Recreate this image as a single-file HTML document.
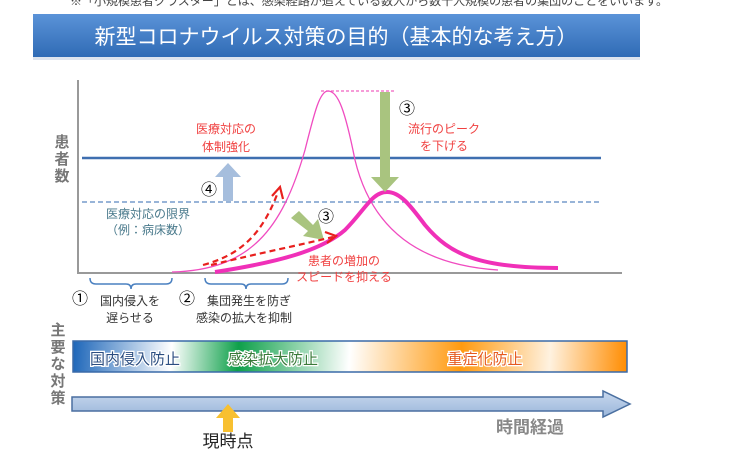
<!DOCTYPE html>
<html><head><meta charset="utf-8"><style>
html,body{margin:0;padding:0;background:#fff;width:738px;height:471px;overflow:hidden}
text{font-family:"Liberation Sans","Noto Sans CJK JP",sans-serif}
</style></head><body>
<svg width="738" height="471" viewBox="0 0 738 471" xmlns="http://www.w3.org/2000/svg">
<defs>
<linearGradient id="tb" x1="0" y1="0" x2="0" y2="1"><stop offset="0" stop-color="#5b93d8"/><stop offset="1" stop-color="#2f6bb5"/></linearGradient>
<linearGradient id="bar" x1="72" y1="340" x2="627" y2="372" gradientUnits="userSpaceOnUse">
<stop offset="0" stop-color="#1a64b8"/><stop offset="0.18" stop-color="#ffffff"/><stop offset="0.3" stop-color="#0ea04a"/><stop offset="0.5" stop-color="#ffffff"/><stop offset="0.7" stop-color="#ff9a10"/><stop offset="0.86" stop-color="#fff2e0"/><stop offset="1" stop-color="#ff8c00"/></linearGradient>
<linearGradient id="arr" x1="0" y1="0" x2="0" y2="1"><stop offset="0" stop-color="#c8d8ee"/><stop offset="1" stop-color="#9ab6da"/></linearGradient>
</defs>
<text x="70" y="5" font-size="12" fill="#444">※「小規模患者クラスター」とは、感染経路が追えている数人から数十人規模の患者の集団のことをいいます。</text>
<rect x="33" y="14" width="607" height="43" fill="url(#tb)"/>
<rect x="33" y="57" width="607" height="3" fill="#dde4ee"/>
<text x="336" y="44" font-size="21" fill="#fff" text-anchor="middle">新型コロナウイルス対策の目的（基本的な考え方）</text>
<line x1="78" y1="80" x2="78" y2="274" stroke="#999" stroke-width="2"/>
<line x1="77" y1="273" x2="622" y2="273" stroke="#999" stroke-width="2"/>
<g font-size="15" font-weight="bold" fill="#777" text-anchor="middle">
<text x="62" y="147">患</text><text x="62" y="164">者</text><text x="62" y="181">数</text>
<text x="58" y="335">主</text><text x="58" y="352">要</text><text x="58" y="369">な</text><text x="58" y="386">対</text><text x="58" y="403">策</text>
</g>
<line x1="82" y1="158" x2="601" y2="158" stroke="#3f6fb0" stroke-width="2.5"/>
<line x1="82" y1="202" x2="601" y2="202" stroke="#5b86c0" stroke-width="1.2" stroke-dasharray="5,3"/>
<text x="148" y="218" font-size="12" fill="#4a7a8c" text-anchor="middle">医療対応の限界</text>
<text x="148" y="234" font-size="12" fill="#4a7a8c" text-anchor="middle">（例：病床数）</text>
<line x1="321" y1="91" x2="396" y2="91" stroke="#f060c0" stroke-width="1.2" stroke-dasharray="3,2"/>
<path d="M172,272 C250,270 282,230 305,150 C315,110 320,91 328,91 C338,91 345,110 355,160 C372,230 420,265 498,270" fill="none" stroke="#f04cc0" stroke-width="1.3"/>
<path d="M215,272 C280,262 322,250 345,230 C365,210 372,192 387,192 C400,192 410,205 425,225 C450,255 480,268 558,268" fill="none" stroke="#f030b8" stroke-width="4"/>
<polygon points="380,92 390,92 390,177 399,177 385,192 371,177 380,177" fill="#a9c47f"/>
<polygon points="223,201 233,201 233,177 241,177 228,163 215,177 223,177" fill="#a6bedd"/>
<polygon points="291,218 299,211 313,225 318,219 324,240 303,236 308,231" fill="#a9c47f"/>
<path d="M203,265 C240,255 262,235 278,192" fill="none" stroke="#e8201e" stroke-width="2.2" stroke-dasharray="6,4"/>
<polyline points="272,196 280,187 283,199" fill="none" stroke="#e8201e" stroke-width="2.2"/>
<path d="M211,265 C260,253 300,245 333,237" fill="none" stroke="#e8201e" stroke-width="2.2" stroke-dasharray="6,4"/>
<polyline points="325,232 336,236 327,243" fill="none" stroke="#e8201e" stroke-width="2.2"/>
<g font-size="12" fill="#f04040" text-anchor="middle">
<text x="226" y="133">医療対応の</text><text x="226" y="151">体制強化</text>
<text x="444" y="133">流行のピーク</text><text x="444" y="150">を下げる</text>
<text x="344" y="265">患者の増加の</text><text x="344" y="281">スピードを抑える</text>
</g>
<g font-size="16" fill="#000" text-anchor="middle">
<text x="407" y="114">③</text><text x="326" y="222">③</text><text x="209" y="195">④</text>
<text x="80" y="304">①</text><text x="187" y="304">②</text>
</g>
<g fill="none" stroke="#4a80c0" stroke-width="1.5">
<path d="M90,278 Q90,284 96,284 L126,284 Q131,284 131,289 Q131,284 136,284 L166,284 Q172,284 172,278"/>
<path d="M205,278 Q205,284 211,284 L241,284 Q246,284 246,289 Q246,284 251,284 L282,284 Q288,284 288,278"/>
</g>
<g font-size="12" fill="#333" text-anchor="middle">
<text x="130" y="305">国内侵入を</text><text x="130" y="322">遅らせる</text>
<text x="249" y="305">集団発生を防ぎ</text><text x="244" y="322">感染の拡大を抑制</text>
</g>
<rect x="73" y="341" width="554" height="31" fill="url(#bar)" stroke="#3a6aa8" stroke-width="1.5"/>
<g font-size="15" text-anchor="middle">
<text x="135" y="364" fill="#2b4d80" stroke="#fff" stroke-width="2.5" paint-order="stroke">国内侵入防止</text>
<text x="273" y="364" fill="#3a7a3a" stroke="#fff" stroke-width="2.5" paint-order="stroke">感染拡大防止</text>
<text x="485" y="364" fill="#e55a20" stroke="#fff" stroke-width="2.5" paint-order="stroke">重症化防止</text>
</g>
<polygon points="72,397 603,397 603,391 630,404 603,417 603,411 72,411" fill="url(#arr)" stroke="#4a6fa0" stroke-width="1.5"/>
<polygon points="223,432 233,432 233,418 240,418 228,404 216,418 223,418" fill="#f8c030"/>
<text x="228" y="447" font-size="17" fill="#222" text-anchor="middle">現時点</text>
<text x="530" y="433" font-size="17" font-weight="bold" fill="#888" text-anchor="middle">時間経過</text>
</svg>
</body></html>
